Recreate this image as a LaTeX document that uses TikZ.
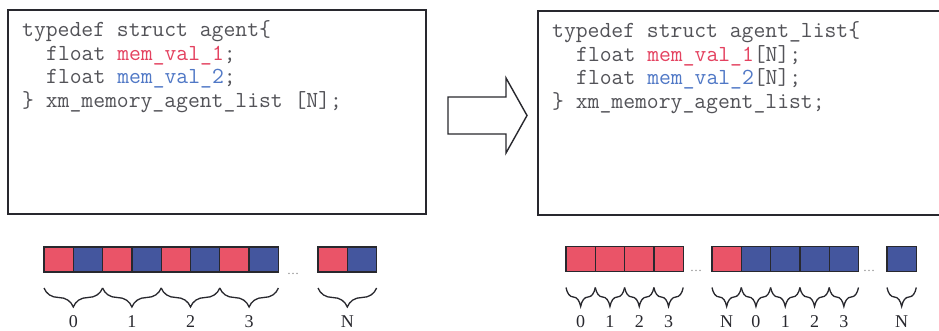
\documentclass[tikz,border=0pt]{standalone}
\usepackage{fontspec}
\setmainfont{Liberation Serif}
\usetikzlibrary{decorations.pathreplacing,calc,positioning}
\definecolor{cellred}{RGB}{234,84,104}
\definecolor{cellblue}{RGB}{68,86,158}
\definecolor{codered}{RGB}{228,66,96}
\definecolor{codeblue}{RGB}{80,120,198}
\definecolor{ink}{RGB}{40,40,46}

\begin{document}
\begin{tikzpicture}[x=1pt,y=-1pt,
  codebox/.style={draw=ink,line width=1.6pt,inner sep=0,outer sep=0},
  code/.style={anchor=base west,inner sep=0,font=\fontsize{23}{24}\selectfont\ttfamily,text=ink!80},
  cell/.style={draw=ink,line width=1.3pt,minimum width=29.3pt,minimum height=25pt,inner sep=0,outer sep=0},
  rc/.style={cell,fill=cellred},
  bc/.style={cell,fill=cellblue},
  brc/.style={decorate,decoration={brace,mirror,amplitude=19pt},line width=1.3pt,draw=ink},
  idx/.style={font=\fontsize{18}{18}\selectfont,inner sep=0,text=ink},
  dots/.style={font=\fontsize{12}{12}\selectfont,text=gray,inner sep=0}]

\useasboundingbox (0,0) rectangle (939,331);
\fill[white] (0,0) rectangle (939,331);

% ---- code boxes ----
\node[codebox,minimum width=418pt,minimum height=204pt] (lbox) at (217,112) {};
\node[codebox,minimum width=412pt,minimum height=204pt] (rbox) at (744,113) {};

% array-of-structs declaration
\node[code] (lt1) at (22,37)    {typedef struct agent\{};
\node[code] (lt2) at (46,60.5)  {float {\color{codered}mem\_val\_1};};
\node[code] (lt3) at (46,84)    {float {\color{codeblue}mem\_val\_2};};
\node[code] (lt4) at (22,107.5) {\} xm\_memory\_agent\_list [N];};

% struct-of-arrays declaration
\node[code] (rt1) at (552,38)    {typedef struct agent\_list\{};
\node[code] (rt2) at (576,61.5)  {float {\color{codered}mem\_val\_1}[N];};
\node[code] (rt3) at (576,85)    {float {\color{codeblue}mem\_val\_2}[N];};
\node[code] (rt4) at (552,108.5) {\} xm\_memory\_agent\_list;};

% ---- transformation arrow ----
\draw[ink,line width=1.4pt,fill=white,line join=miter]
  (448,97) -- (506,97) -- (506,78) -- (527,115.5) -- (506,153) -- (506,134) -- (448,134) -- cycle;

% ---- interleaved layout ----
\node[rc] (a0) at (58.65,259.5) {};
\node[bc,right=0pt of a0] (a1) {};
\node[rc,right=0pt of a1] (a2) {};
\node[bc,right=0pt of a2] (a3) {};
\node[rc,right=0pt of a3] (a4) {};
\node[bc,right=0pt of a4] (a5) {};
\node[rc,right=0pt of a5] (a6) {};
\node[bc,right=0pt of a6] (a7) {};
\node[dots] (ad) at (293,274) {\dots};
\node[rc] (aN1) at (332.65,259.5) {};
\node[bc,right=0pt of aN1] (aN2) {};

\foreach \p/\q/\t in {a0/a1/0,a2/a3/1,a4/a5/2,a6/a7/3,aN1/aN2/N}{
  \draw[brc] ([yshift=-16pt]\p.south west) -- ([yshift=-16pt]\q.south east);
  \node[idx] (lab\p) at ($(\p.south east)+(0,50)$) {\t};
}

% ---- separated layout ----
\node[rc] (b0) at (580.65,259) {};
\node[rc,right=0pt of b0] (b1) {};
\node[rc,right=0pt of b1] (b2) {};
\node[rc,right=0pt of b2] (b3) {};
\node[dots] (bd1) at (696,271) {\dots};
\node[rc] (b4) at (726.65,259) {};
\node[bc,right=0pt of b4] (c0) {};
\node[bc,right=0pt of c0] (c1) {};
\node[bc,right=0pt of c1] (c2) {};
\node[bc,right=0pt of c2] (c3) {};
\node[dots] (bd2) at (869,271) {\dots};
\node[bc] (c4) at (901.65,259) {};

\foreach \c/\t in {b0/0,b1/1,b2/2,b3/3,b4/N,c0/0,c1/1,c2/2,c3/3,c4/N}{
  \draw[brc] ([yshift=-16pt]\c.south west) -- ([yshift=-16pt]\c.south east);
  \node[idx] (lab\c) at ($(\c.south)+(0,50.5)$) {\t};
}
\end{tikzpicture}
\end{document}
